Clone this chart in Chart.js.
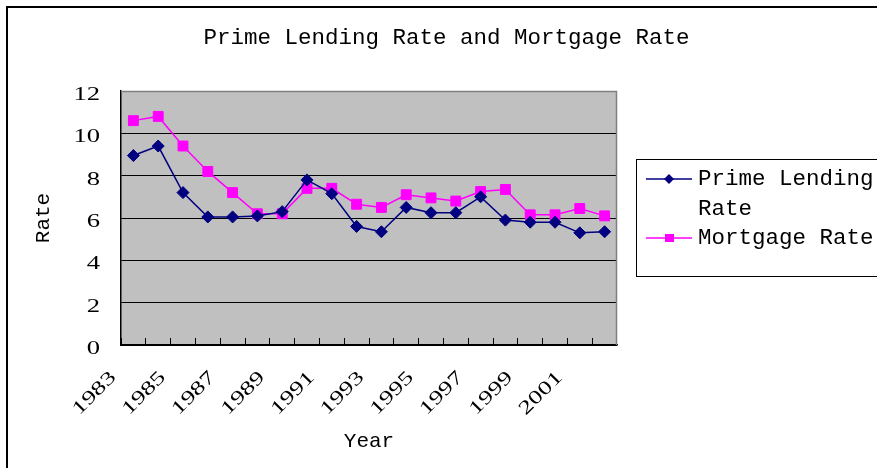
<!DOCTYPE html>
<html>
<head>
<meta charset="utf-8">
<script src="https://cdn.jsdelivr.net/npm/chart.js@4.4.1/dist/chart.umd.min.js"></script>
<style>
  html, body { margin: 0; padding: 0; background: #fff; }
  canvas { display: block; }
</style>
</head>
<body>
<canvas id="c" width="877" height="468"></canvas>
<script>
// ---- data ----
const chartTitle = 'Prime Lending Rate and Mortgage Rate';
const xTitle = 'Year';
const yTitle = 'Rate';
const years = ['1983','1984','1985','1986','1987','1988','1989','1990','1991','1992',
               '1993','1994','1995','1996','1997','1998','1999','2000','2001','2002'];
const primeLabel = 'Prime Lending Rate';
const primeRate = [8.95, 9.4, 7.2, 6.05, 6.05, 6.1, 6.3, 7.8, 7.15, 5.6,
                   5.35, 6.5, 6.25, 6.25, 7.0, 5.9, 5.8, 5.8, 5.3, 5.35];
const mortgageLabel = 'Mortgage Rate';
const mortgageRate = [10.6, 10.8, 9.4, 8.2, 7.2, 6.2, 6.2, 7.4, 7.4, 6.65,
                      6.5, 7.1, 6.95, 6.8, 7.25, 7.35, 6.15, 6.15, 6.45, 6.1];
const yTicks = [0, 2, 4, 6, 8, 10, 12];

// ---- wide serif digits (horizontal text stretch) ----
const STRETCH_FONT = 'Liberation Serif';
const SX = 1.4;
const canvas = document.getElementById('c');
const ctx = canvas.getContext('2d');
(function patch(c) {
  const of = c.fillText.bind(c);
  const om = c.measureText.bind(c);
  c.fillText = function (t, x, y, mw) {
    if (String(this.font).indexOf(STRETCH_FONT) < 0) return mw === undefined ? of(t, x, y) : of(t, x, y, mw);
    this.save(); this.translate(x, y); this.scale(SX, 1); of(t, 0, 0); this.restore();
  };
  c.measureText = function (t) {
    const m = om(t);
    if (String(this.font).indexOf(STRETCH_FONT) < 0) return m;
    return { width: m.width * SX,
      actualBoundingBoxAscent: m.actualBoundingBoxAscent,
      actualBoundingBoxDescent: m.actualBoundingBoxDescent,
      actualBoundingBoxLeft: m.actualBoundingBoxLeft * SX,
      actualBoundingBoxRight: m.actualBoundingBoxRight * SX };
  };
})(ctx);

const MONO = '"Liberation Mono", "DejaVu Sans Mono", monospace';
const SERIF = '"Liberation Serif", serif';

const decor = {
  id: 'decor',
  beforeDraw(chart) {
    const c = chart.ctx, a = chart.chartArea;
    c.save();
    c.fillStyle = '#fff';
    c.fillRect(0, 0, chart.width, chart.height);
    // outer frame (top + left)
    c.fillStyle = '#000';
    c.fillRect(6, 6, chart.width - 6, 2);
    c.fillRect(6, 6, 2, chart.height - 6);
    // plot background
    c.fillStyle = '#C0C0C0';
    c.fillRect(a.left, a.top, a.right - a.left, a.bottom - a.top);
    c.restore();
  },
  beforeDatasetsDraw(chart) {
    const c = chart.ctx, a = chart.chartArea;
    c.save();
    c.strokeStyle = '#808080';
    c.lineWidth = 1.5;
    c.beginPath();
    c.moveTo(a.left, a.top + 0.5);
    c.lineTo(a.right - 0.5, a.top + 0.5);
    c.lineTo(a.right - 0.5, a.bottom);
    c.stroke();
    c.restore();
  },
  afterDraw(chart) {
    const c = chart.ctx;
    c.save();
    // title
    c.fillStyle = '#000';
    c.font = '22.5px ' + MONO;
    c.textAlign = 'center';
    c.textBaseline = 'alphabetic';
    c.fillText(chartTitle, 446.5, 43.5);
    // legend box
    const bx = 636, by = 159, bw = 260, bh = 117;
    c.strokeStyle = '#000';
    c.lineWidth = 1;
    c.fillStyle = '#fff';
    c.fillRect(bx, by, bw, bh);
    c.strokeRect(bx + 0.5, by + 0.5, bw, bh);
    c.textAlign = 'left';
    let y = 179;
    chart.data.datasets.forEach((ds) => {
      // wrap label
      const words = ds.label.split(' ');
      const lines = [];
      let cur = '';
      words.forEach(w => {
        const t = cur ? cur + ' ' + w : w;
        if (c.measureText(t).width > 178 && cur) { lines.push(cur); cur = w; } else cur = t;
      });
      if (cur) lines.push(cur);
      c.strokeStyle = ds.borderColor;
      c.lineWidth = 1.5;
      c.beginPath(); c.moveTo(646, y); c.lineTo(692, y); c.stroke();
      c.fillStyle = ds.backgroundColor;
      if (ds.pointStyle === 'rectRot') {
        c.beginPath();
        c.moveTo(669, y - 5); c.lineTo(674, y); c.lineTo(669, y + 5); c.lineTo(664, y);
        c.closePath(); c.fill();
      } else {
        c.fillRect(665, y - 4, 9, 8);
      }
      c.fillStyle = '#000';
      lines.forEach((ln, i) => c.fillText(ln, 698, y + 6 + i * 29.5));
      y += 29.5 * lines.length;
    });
    c.restore();
  }
};

new Chart(ctx, {
  type: 'line',
  data: {
    labels: years,
    datasets: [
      { label: primeLabel, data: primeRate,
        borderColor: '#000080', backgroundColor: '#000080', borderWidth: 1.5,
        pointStyle: 'rectRot', pointRadius: 6, pointHoverRadius: 6,
        pointBackgroundColor: '#000080', pointBorderColor: '#000080', pointBorderWidth: 1,
        tension: 0 },
      { label: mortgageLabel, data: mortgageRate,
        borderColor: '#FF00FF', backgroundColor: '#FF00FF', borderWidth: 1.5,
        pointStyle: 'rect', pointRadius: 7, pointHoverRadius: 7,
        pointBackgroundColor: '#FF00FF', pointBorderColor: '#FF00FF', pointBorderWidth: 1,
        tension: 0 }
    ]
  },
  options: {
    responsive: false,
    animation: false,
    devicePixelRatio: 1,
    events: [],
    layout: { padding: { left: 0, right: 260, top: 91, bottom: 0 } },
    plugins: { legend: { display: false }, title: { display: false }, tooltip: { enabled: false } },
    scales: {
      x: {
        type: 'category',
        offset: true,
        afterFit(s) { s.height = 123; },
        grid: { display: true, offset: true, drawOnChartArea: false, drawTicks: true,
                tickLength: -7, color: '#000', lineWidth: 1 },
        border: { display: true, color: '#000', width: 1.5 },
        ticks: {
          autoSkip: false, maxRotation: 45, minRotation: 45,
          padding: 28.5, labelOffset: -20,
          color: '#000', font: { family: SERIF, size: 19 },
          callback(v, i) { return i % 2 === 0 ? this.getLabelForValue(v) : ''; }
        },
        title: { display: true, text: xTitle, color: '#000',
                 font: { family: MONO, size: 21 }, padding: { top: 0, bottom: 14 } }
      },
      y: {
        min: 0, max: 12,
        afterFit(s) { s.width = 121; },
        afterBuildTicks(s) { s.ticks = yTicks.map(v => ({ value: v })); },
        grid: { drawTicks: false, color: (c) => (c.tick && c.tick.value === 12 ? '#808080' : '#000'), lineWidth: 1 },
        border: { display: true, color: '#000', width: 1.5 },
        ticks: { padding: 21, labelOffset: 4, color: '#000', font: { family: SERIF, size: 19 } },
        title: { display: true, text: yTitle, color: '#000',
                 font: { family: MONO, size: 21 }, padding: { top: 31, bottom: 0 } }
      }
    }
  },
  plugins: [decor]
});
</script>
</body>
</html>
